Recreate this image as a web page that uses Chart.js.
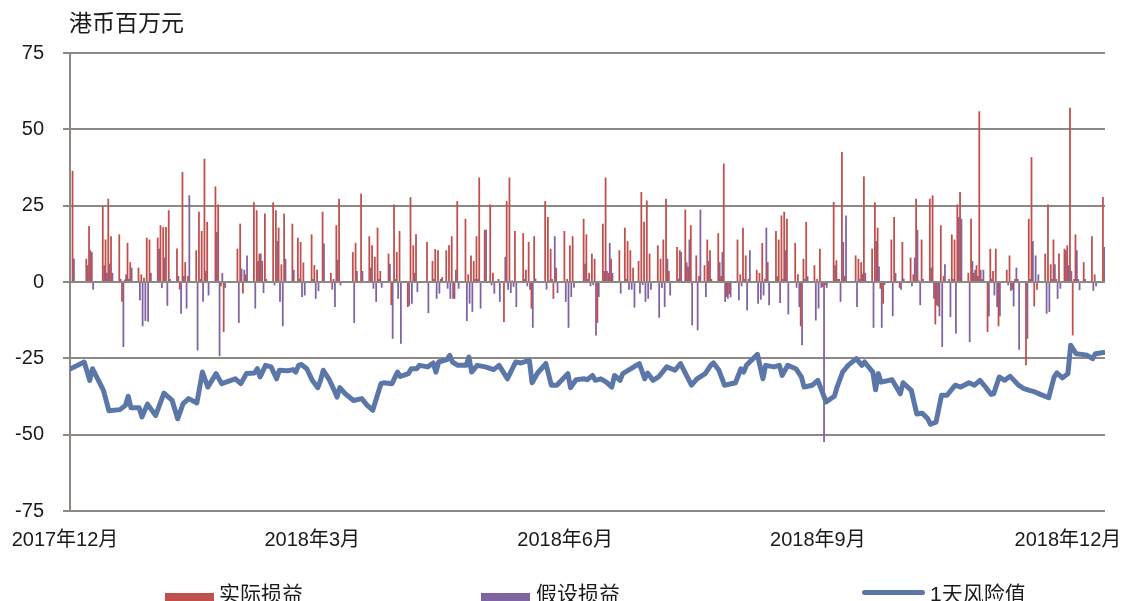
<!DOCTYPE html>
<html lang="zh-CN">
<head>
<meta charset="utf-8">
<title>风险值与损益</title>
<script src="https://cdn.jsdelivr.net/npm/chart.js@4.4.1/dist/chart.umd.min.js"></script>
<style>
    html, body { margin: 0; padding: 0; background: #ffffff; overflow: hidden; }
    #wrap { position: relative; width: 1127px; height: 601px; }
    #chart { position: absolute; left: 0; top: 0; }
    .txt { position: absolute; color: #1a1a1a; font-family: 'Liberation Sans', 'Noto Sans CJK SC', sans-serif; white-space: nowrap; }
    #unit { left: 69px; top: 4px; font-size: 23px; }
    .legend-box { position: absolute; top: 593px; width: 49px; height: 20px; }
    .legend-line { position: absolute; top: 590px; width: 63px; height: 5px; border-radius: 3px; }
    .legend-txt { top: 577px; font-size: 21px; }
</style>
</head>
<body>
<div id="wrap">
    <canvas id="chart" width="1127" height="601"></canvas>
    <div id="unit" class="txt">港币百万元</div>
    <div class="legend-box" style="left:165px; background:#c0504d;"></div>
    <div class="txt legend-txt" style="left:219px;">实际损益</div>
    <div class="legend-box" style="left:481px; background:#8064a2;"></div>
    <div class="txt legend-txt" style="left:536px;">假设损益</div>
    <div class="legend-line" style="left:862px; background:#5b76a8;"></div>
    <div class="txt legend-txt" style="left:930px;">1天风险值</div>
</div>
<script>
// x values are calendar days counted from 2017-12-01 (day 0)
const tickDays = [0, 90, 182, 274, 365];
const tickLabels = ['2017年12月', '2018年3月', '2018年6月', '2018年9月', '2018年12月'];

// days with a P&L bar
const plDays = [
    3, 8, 9, 10, 14, 15, 16, 17, 20, 21,
    22, 23, 24, 27, 28, 29, 30, 31, 34, 35,
    36, 37, 38, 41, 42, 43, 44, 45, 48, 49,
    50, 51, 52, 55, 56, 57, 58, 63, 64, 65,
    66, 69, 70, 71, 72, 73, 76, 77, 78, 79,
    80, 83, 85, 86, 87, 90, 91, 92, 94, 97,
    98, 99, 100, 105, 106, 108, 111, 112, 113, 114,
    115, 118, 119, 120, 121, 122, 125, 126, 127, 128,
    132, 134, 135, 136, 137, 139, 140, 141, 142, 143,
    146, 147, 148, 149, 150, 151, 153, 155, 156, 158,
    160, 161, 162, 163, 164, 167, 168, 169, 170, 171,
    175, 176, 177, 178, 179, 182, 183, 184, 185, 189,
    190, 191, 192, 193, 194, 196, 197, 198, 199, 202,
    204, 205, 206, 207, 209, 210, 211, 212, 213, 216,
    217, 218, 219, 220, 223, 224, 226, 227, 228, 230,
    231, 233, 234, 235, 238, 239, 240, 241, 242, 245,
    246, 247, 248, 249, 252, 253, 254, 255, 256, 259,
    260, 261, 262, 263, 266, 267, 268, 269, 270, 273,
    274, 275, 276, 277, 280, 281, 282, 283, 284, 288,
    289, 290, 291, 294, 295, 296, 297, 298, 301, 302,
    304, 305, 308, 309, 310, 311, 312, 315, 316, 317,
    318, 319, 320, 322, 323, 324, 325, 326, 329, 330,
    331, 332, 333, 334, 336, 337, 338, 339, 340, 343,
    344, 345, 346, 347, 350, 351, 352, 353, 354, 357,
    358, 359, 360, 361, 362, 364, 365, 366, 367, 368,
    369, 371, 374, 375, 378
];

// 实际损益 (HKD mn)
const actualPL = [
    36.4, 7.6, 18.3, 9.8, 24.8, 13.9, 27.3, 15, 15.6, -6.5,
    0.8, 12.8, 6.5, 4.7, 2.5, 1.4, 14.5, 13.9, 14.5, 18.6,
    18, 18, 23.5, 11, -2.5, 36, 6.5, 2, 10.4, 23,
    16.7, 40.4, 19.7, 31.3, 25.4, -1.4, -16.4, 10.9, 19.1, -3.8,
    2.5, 26.1, 23.5, 9.3, 6.9, 22.4, 26.1, 23.5, 17.8, 5.8,
    22.4, 19.1, 14.5, 13.1, 6.4, 15.6, 5.5, 4, 23, 3,
    1, 18.6, 27.3, 9.8, 12.8, 28.9, 15, 12, 8.2, 17.8,
    3.6, 9.3, -7.6, 25.4, 9.8, 16.7, -8.2, 27.8, 12, 15.6,
    13.1, 6.9, 10.8, 10.4, 1, 10.4, 12, 15, -5.5, 26.5,
    20.7, 2.5, 8.7, 6.9, 15, 34.2, 17.1, 25.4, 3, 1,
    -13.1, 26.5, 34.2, 0.5, 16.7, 16, 4, 13.1, -8.7, 15,
    26.5, 21.3, 10.9, -5.5, 4.7, 16.7, 1, 12, 15, 20.7,
    15.6, 3, 9.3, 7.6, -13.4, 19.1, 34.2, 3, 7.6, 10.4,
    17.8, 13.4, 10.4, 4.7, 6.9, 29.5, 19.7, 26.7, 9.3, 12,
    7.6, 13.9, 27.3, 3.6, 11.5, 10.4, 23.7, 5, 18.6, 8.7,
    2, 5.5, 13.9, 10.4, 16, 2, 38.8, -4.9, -4, 13.9,
    2.5, 17.8, 8.7, 1, 4, 3, 12.8, 1, 6.5, 16.7,
    13.9, 21.8, 23, 20.7, 12.8, 2.5, -14.5, 7.6, 19.7, 5.5,
    1, 10.9, -1.6, -1, 26.2, 7.1, 1, 42.6, 2, 8.7,
    7.6, 6.5, 34.6, 10.9, 26.1, 17.8, -2.2, -7.1, 13.9, 21.3,
    -1.9, 13.1, 8, 2.5, 27.3, 0.5, 13.9, 27.3, 28.4, -13.9,
    -8, 18.6, 2, 1, 15.6, 13.9, 25.4, 29.5, 3, 20.7,
    3, 5.5, 55.9, 1, -16.4, 10.9, 3.6, 10.9, -14.5, 4,
    8.7, -2.5, 1, 1, -27.3, 20.7, 40.9, -8, -2.5, 9.3,
    25.4, 5.8, 13.9, 1, 9.3, 10.9, 12, 57.1, -17.5, 15.6,
    1, 6.5, 15, 2.5, 27.8
];

// 假设损益 (HKD mn)
const hypoPL = [
    7.6, 5.5, 10.4, -2.5, 5.5, 3, 6, 3, 1, -21.3,
    2.5, 1, 4.7, -6, -14.5, -12.8, -13, 3, 10.9, -2,
    8, -7.8, 1, 2, -10.4, 2, -8.7, 28.4, -22.4, 1,
    -6.5, 3.6, -4.4, 16.4, -24.3, 3, -1.9, -13.4, 4.4, 4,
    8.7, -8.7, 6.9, 9.3, -3.6, 1, -1.1, 13.4, -6.5, -14.5,
    7.6, 4, 1.1, -4.9, -4.4, 1, -5.5, -3, 12.6, -2.5,
    -8.2, 7.3, -1.1, -13.4, 3.6, 3.6, 4.7, -2.2, -6.5, 1,
    -1.9, 6, -18.6, 1, -5.5, -20.2, -7.8, -7.1, 3, -3.3,
    -10.2, 1, -5.5, -3.8, 1.6, -2.2, -5.5, -5.5, 4, -2.2,
    -12.8, -7.1, -9.8, 1, 1, -8.7, 17.1, -1.1, -3.8, -6.5,
    8.2, -2.5, -3.6, -1.6, -8.2, 1, -1.4, -2.5, -15, 1.1,
    -2.5, 0.5, 1, 15, -3.6, -6.5, -15, -4.9, -1.9, 6,
    1, -1.4, -1, -17.5, -4.9, 3.6, 3.6, 12.8, 3, -3.8,
    1, -2.5, -2.5, -8.4, -3.8, -1, -6.5, -5.5, -2.5, -11.7,
    -2, -8.2, 7.6, -4.4, 1.1, 9.8, 6.4, 13.9, -14.2, -15.8,
    23.7, -4.9, 6.9, 1, 6.5, 9.8, -6.5, -5.5, -5, -6,
    -1.4, 1, -9.3, 10.4, -7.1, -5.8, -4.4, 17.8, -7.6, 1.9,
    -6.9, 1, 10.4, -10.6, -1.9, -8.2, -20.7, 1, 1.9, -12.6,
    -8.7, -1.9, -52.4, -1.9, 5.5, 1, -6.5, 13.1, 21.8, -8.2,
    1, 2.7, 3, -15, 13.4, 5.1, -15, -1, -11.2, 3,
    -2.5, 1.1, -1.4, 8, 17.1, -7.6, 1, 4.7, -5.5, -7.6,
    -11.2, -21.3, 5.8, -11.5, 1, -16.9, 21.3, 20.7, -19.7, 6.9,
    4, 2, 4, 4, -11.2, 1.1, -4.4, -8.2, -11.2, -1.1,
    -2.9, -8, 4.7, -22.2, -18.6, 1, 13.4, 8.7, 2.5, -10.4,
    -9.8, 1, 5.8, -5.5, -2.2, 10.4, 5.5, 3.6, 1, 10.4,
    -2.7, 1, -2.9, -1.4, 11.5
];

// 1天风险值, read at these days
const varDays = [
    2, 7, 9, 10, 14, 16, 20, 22, 23, 24,
    27, 28, 30, 33, 36, 39, 41, 43, 45, 48,
    50, 52, 55, 57, 62, 64, 66, 69, 70, 71,
    73, 75, 77, 78, 81, 83, 84, 85, 86, 88,
    90, 92, 93, 94, 96, 98, 99, 100, 102, 105,
    108, 110, 112, 115, 116, 119, 121, 122, 125, 126,
    128, 129, 132, 134, 135, 136, 139, 140, 141, 143,
    146, 147, 148, 150, 153, 156, 158, 161, 164, 166,
    169, 170, 172, 175, 177, 179, 183, 184, 186, 189,
    190, 192, 193, 195, 197, 199, 200, 202, 203, 206,
    209, 211, 212, 214, 216, 219, 222, 224, 228, 230,
    233, 235, 236, 238, 240, 244, 246, 247, 248, 252,
    254, 255, 258, 260, 261, 263, 266, 268, 269, 272,
    274, 277, 280, 281, 283, 284, 285, 288, 290, 291,
    294, 295, 296, 297, 301, 304, 305, 308, 310, 312,
    314, 315, 317, 319, 321, 324, 326, 329, 331, 333,
    335, 337, 338, 340, 342, 344, 346, 347, 349, 351,
    353, 355, 358, 360, 361, 363, 365, 366, 368, 370,
    372, 374, 375, 378
];
const varValues = [
    -28.4, -26.2, -32.2, -28.4, -35.5, -42.2, -41.8, -40.4, -37.4, -41.2,
    -41.2, -44.2, -40, -43.7, -36.4, -38.8, -44.8, -39.8, -38.2, -39.6,
    -29.5, -34.4, -30, -33.3, -31.7, -33.3, -30, -29.8, -28.4, -31.1,
    -27.3, -27.8, -31.7, -28.9, -29.1, -28.7, -29.5, -27.3, -27, -28.4,
    -32.2, -34.6, -32.2, -28.9, -31.7, -35.5, -37.7, -34.6, -36.6, -38.8,
    -38.2, -40.4, -42, -33.3, -33, -33.3, -29.5, -30.9, -30, -28.4,
    -28.4, -27.3, -27.8, -26.5, -29.5, -26.2, -25.4, -24, -26.2, -27.3,
    -27.3, -24.6, -29.5, -27.3, -27.8, -28.7, -27.3, -31.7, -26.2, -26.5,
    -25.7, -33, -29.8, -26.7, -33.8, -33.8, -30, -34.6, -32, -31.7,
    -32, -30.6, -32.2, -31.7, -32.8, -34.4, -30.6, -32.2, -30, -28.4,
    -26.7, -31.7, -29.8, -32.2, -31.1, -27.8, -28.9, -26.7, -33.8, -31.7,
    -30, -27.3, -26.5, -28.9, -33.8, -33, -28.4, -29.5, -27.3, -23.7,
    -31.7, -27.3, -27.8, -27.3, -30.6, -27.3, -28.4, -31.1, -34.4, -33.8,
    -32.2, -39.3, -37.4, -34.4, -29.5, -28.4, -27.3, -25.1, -27.3, -26.2,
    -29.5, -35.3, -30, -32.8, -32, -36.6, -33, -35.5, -43.2, -43,
    -44.8, -46.6, -45.9, -37.1, -37.1, -33.8, -34.4, -33, -33.8, -32.2,
    -34.4, -36.8, -36.6, -31.1, -32.2, -30.9, -32.8, -33.8, -34.9, -35.5,
    -36, -36.8, -37.9, -31.1, -29.8, -31.4, -30, -20.7, -23.5, -23.7,
    -24, -25.1, -23.5, -23.1
];

const yTicks = [-75, -50, -25, 0, 25, 50, 75];

const RED = '#c0504d';
const PURPLE = '#8064a2';
const BLUE = '#5b76a8';
const GRID = '#8e8884';
const FONT = "'Liberation Sans', 'Noto Sans CJK SC', sans-serif";

// pixel range of the plot is fixed by these day limits
const X_MIN = 1.82;
const X_MAX = 378.5;

function toPoints(days, values) {
    return days.map((d, i) => ({ x: d, y: values[i] }));
}

const ctx = document.getElementById('chart').getContext('2d');
new Chart(ctx, {
    type: 'bar',
    data: {
        datasets: [
            {
                type: 'line',
                label: '1天风险值',
                data: toPoints(varDays, varValues),
                borderColor: BLUE,
                borderWidth: 5,
                borderJoinStyle: 'round',
                borderCapStyle: 'round',
                pointRadius: 0,
                tension: 0,
                fill: false
            },
            {
                label: '实际损益',
                data: toPoints(plDays, actualPL),
                backgroundColor: RED,
                categoryPercentage: 1,
                barPercentage: 1.3
            },
            {
                label: '假设损益',
                data: toPoints(plDays, hypoPL),
                backgroundColor: PURPLE,
                categoryPercentage: 1,
                barPercentage: 1.3
            }
        ]
    },
    options: {
        responsive: false,
        animation: false,
        devicePixelRatio: 1,
        layout: { padding: { top: 53, right: 22, bottom: 0, left: 0 } },
        plugins: {
            legend: { display: false }, // legend is drawn in HTML below the chart
            tooltip: { enabled: false }
        },
        scales: {
            x: {
                type: 'linear',
                min: X_MIN,
                max: X_MAX,
                offset: false,
                grid: { display: false, drawTicks: false },
                border: { display: false },
                afterBuildTicks: axis => {
                    axis.ticks = tickDays.map(v => ({ value: v }));
                },
                afterFit: axis => {
                    axis.height = 90;
                    axis.paddingLeft = 0;
                    axis.paddingRight = 0;
                },
                ticks: {
                    autoSkip: false,
                    maxRotation: 0,
                    padding: 17,
                    color: '#1a1a1a',
                    font: { family: FONT, size: 20 },
                    callback: (value, index) => tickLabels[index]
                }
            },
            y: {
                min: -75,
                max: 75,
                afterBuildTicks: axis => {
                    axis.ticks = yTicks.map(v => ({ value: v }));
                },
                afterFit: axis => { axis.width = 70; },
                grid: { color: GRID, lineWidth: 2, tickLength: 7, drawTicks: true },
                border: { display: true, color: GRID, width: 2 },
                ticks: {
                    padding: 19,
                    color: '#1a1a1a',
                    font: { family: FONT, size: 20 }
                }
            }
        }
    }
});
</script>
</body>
</html>
